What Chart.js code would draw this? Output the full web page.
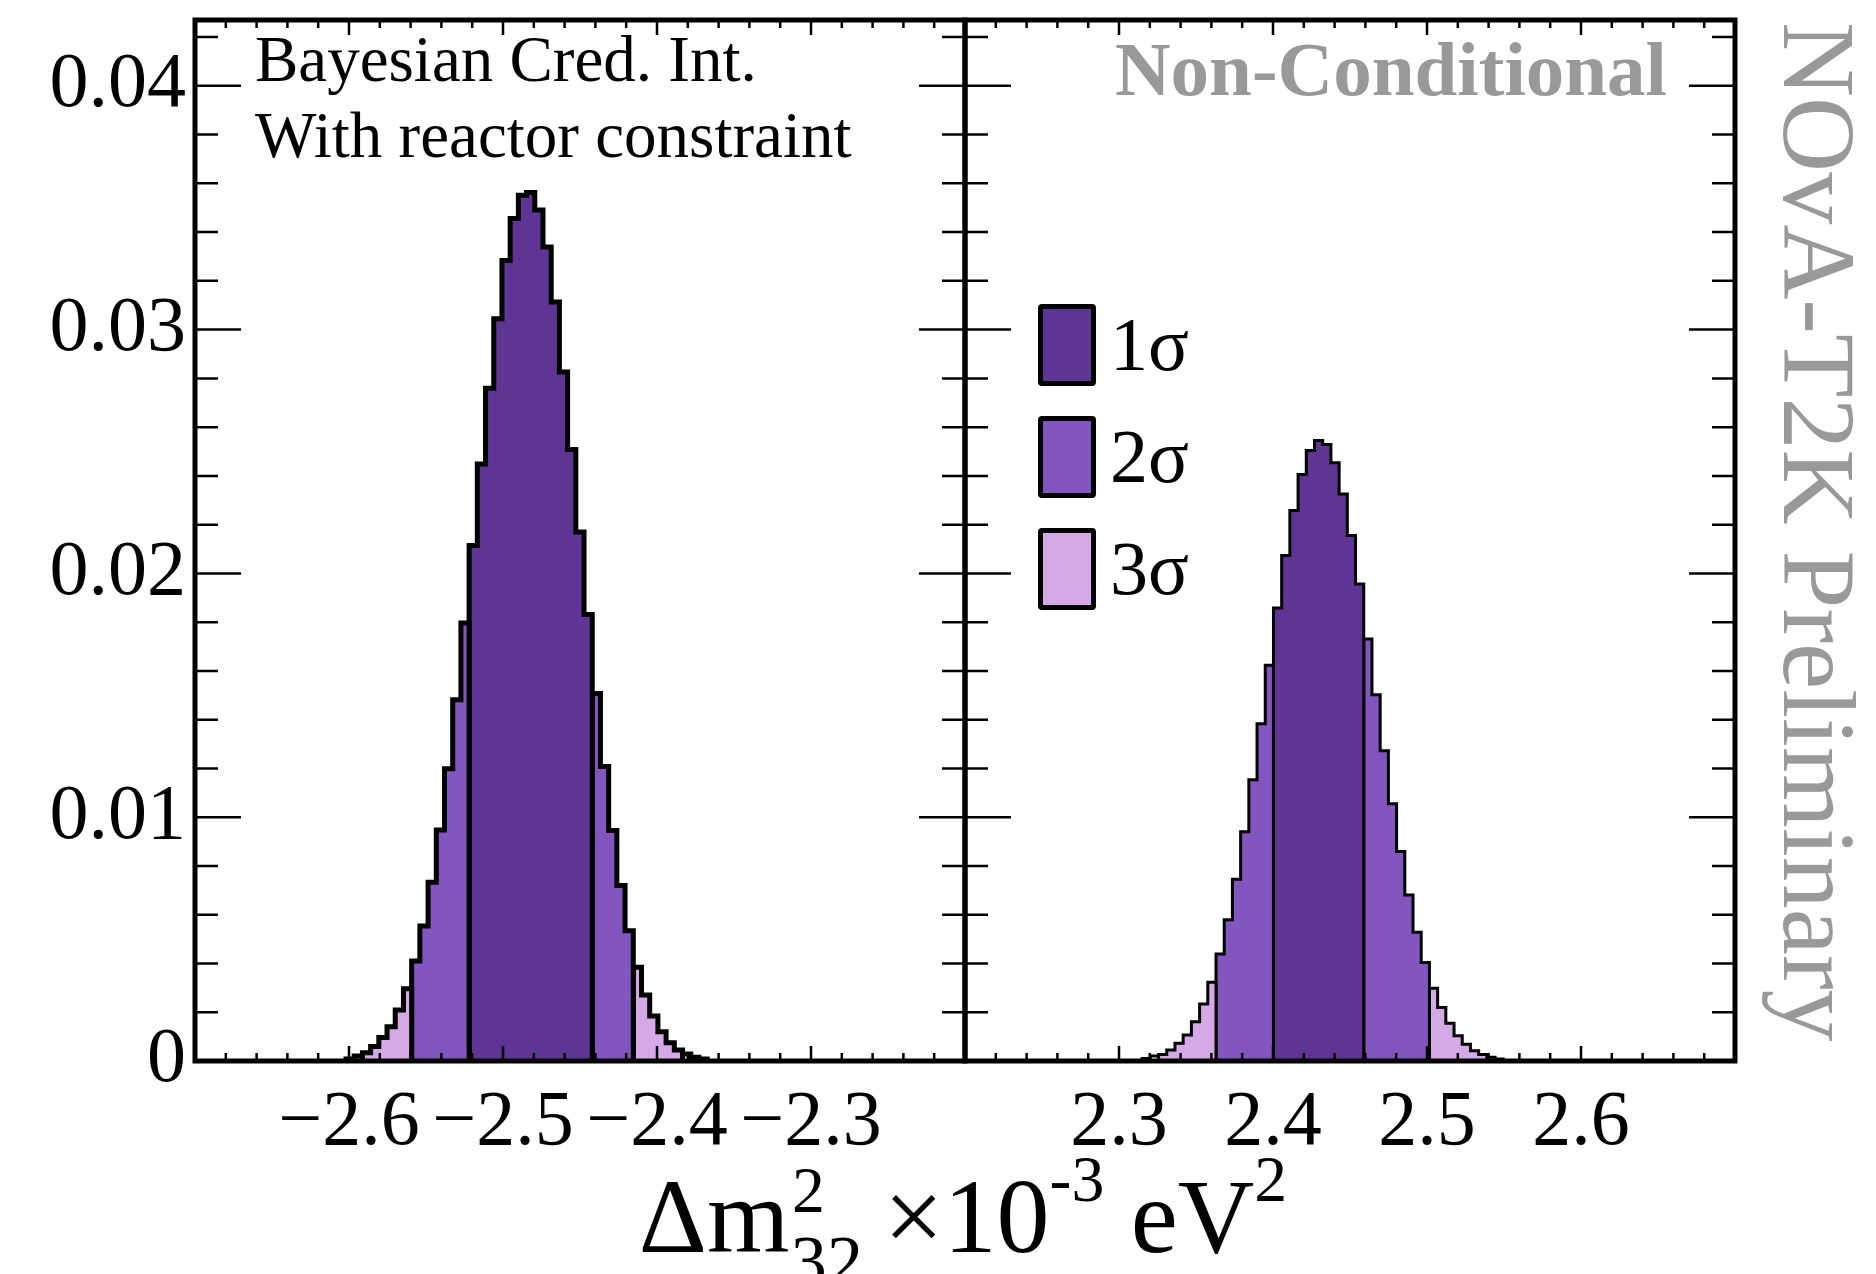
<!DOCTYPE html>
<html>
<head>
<meta charset="utf-8">
<script src="https://cdn.jsdelivr.net/npm/chart.js@4.4.1/dist/chart.umd.min.js"></script>
<style>
    html, body { margin: 0; padding: 0; background: #fff; }
    #wrap { position: relative; width: 1876px; height: 1274px; overflow: hidden; font-family: "Liberation Serif", "Times New Roman", serif; }
    canvas { position: absolute; left: 0; top: 0; }
    .txt { position: absolute; white-space: nowrap; line-height: 1; color: #000; }
    .grey { color: #999; }
    .box { position: absolute; box-sizing: border-box; border: 5px solid #000; border-radius: 4px; }
    .ss { display: inline-block; position: relative; width: 0.64em; height: 1em; vertical-align: baseline; }
    .ss .up { position: absolute; left: 0.04em; top: 0.17em; font-size: 0.62em; }
    .ss .dn { position: absolute; left: 0.02em; top: 1.1em; font-size: 0.68em; }
    .sup { font-size: 0.62em; position: relative; top: -0.78em; }
</style>
</head>
<body>
<div id="wrap">
    <canvas id="c-left" width="1876" height="1274"></canvas>
    <canvas id="c-right" width="1876" height="1274"></canvas>
    <div class="txt" style="left:255px;top:27px;font-size:65px;">Bayesian Cred. Int.</div>
    <div class="txt" style="left:255px;top:103px;font-size:65px;">With reactor constraint</div>
    <div class="txt grey" style="right:209px;top:31px;font-size:77px;font-weight:bold;">Non-Conditional</div>
    <div class="txt grey" style="left:1871px;top:22px;font-size:104px;transform:rotate(90deg);transform-origin:0 0;">NOvA-T2K Preliminary</div>
    <div class="txt" id="xtitle" style="left:963px;top:1146px;font-size:106px;transform:translateX(-50%);">Δm<span class="ss"><span class="up">2</span><span class="dn">32</span></span> ×10<span class="sup">-3</span> eV<span class="sup">2</span></div>
    <div id="legend"></div>
</div>
<script>
(function () {
    "use strict";

    // histogram bins (x in 10^-3 eV^2), heights = posterior probability per bin
    const BIN_WIDTH = 0.00533;

    const leftFirstEdge = -2.60195;
    const leftHeights = [
        0.00008, 0.0002,
        0.00034, 0.00059, 0.00096, 0.00141, 0.00209, 0.00296,
        0.0041, 0.00554, 0.00733, 0.00948, 0.01199, 0.01482, 0.01797,
        0.02115, 0.02449, 0.02759, 0.03045, 0.03284, 0.03456, 0.03551, 0.03562, 0.03491, 0.03339, 0.03113, 0.02826, 0.02508, 0.0217, 0.01831,
        0.01507, 0.01208, 0.00945, 0.0072, 0.00534,
        0.00385, 0.00271, 0.00185, 0.0012, 0.00075, 0.00045,
        0.00029, 0.00015, 0.00008,
    ];
    // [credible level (0 = outside 3 sigma), number of bins]
    const leftRegions = [[0, 2], [3, 6], [2, 7], [1, 15], [2, 5], [3, 6], [0, 3]];

    const rightFirstEdge = 2.31502;
    const rightHeights = [
        0.0001, 0.0002,
        0.00027, 0.00045, 0.00073, 0.00107, 0.00161, 0.00234, 0.00323,
        0.00439, 0.00579, 0.00746, 0.0094, 0.01154, 0.01383, 0.01623,
        0.01858, 0.02073, 0.02258, 0.02406, 0.02504, 0.02545, 0.02529, 0.02454, 0.02326, 0.02155, 0.01957,
        0.01731, 0.01502, 0.01273, 0.01055, 0.00859, 0.00681, 0.00528, 0.00404,
        0.00298, 0.00219, 0.00155, 0.00104, 0.00069, 0.00042, 0.00027,
        0.00015, 0.00008,
    ];
    const rightRegions = [[0, 2], [3, 7], [2, 7], [1, 11], [2, 8], [3, 7], [0, 2]];

    const SIGMA_LABELS = ["1σ", "2σ", "3σ"];
    const SIGMA_COLORS = ["#5e3594", "#8256be", "#d5a9e6"];

    const X_LEFT = [-2.7, -2.2];
    const X_RIGHT = [2.2, 2.7];
    const Y_MAX = 0.0427;
    const X_MAJOR = 0.1, X_MINOR = 0.02;
    const Y_MAJOR = 0.01, Y_MINOR = 0.002;

    const FONT = "Liberation Serif";
    const W = 1876, H = 1274;
    const FRAME = { left: 195, mid: 965, right: 1735, top: 20, bottom: 1061 };

    function buildDatasets(firstEdge, heights, regions, borderWidth) {
        const sets = [];
        let i = 0;
        regions.forEach(([lvl, n]) => {
            const pts = [{ x: firstEdge + i * BIN_WIDTH, y: 0 }];
            for (let k = i; k < i + n; k++) {
                pts.push({ x: firstEdge + k * BIN_WIDTH, y: heights[k] });
                pts.push({ x: firstEdge + (k + 1) * BIN_WIDTH, y: heights[k] });
            }
            pts.push({ x: firstEdge + (i + n) * BIN_WIDTH, y: 0 });
            sets.push({
                label: lvl ? SIGMA_LABELS[lvl - 1] : "",
                data: pts,
                fill: lvl ? "origin" : false,
                backgroundColor: lvl ? SIGMA_COLORS[lvl - 1] : "rgba(0,0,0,0)",
                borderColor: "#000",
                borderWidth: borderWidth,
                borderJoinStyle: "miter",
                pointRadius: 0,
                tension: 0,
            });
            i += n;
        });
        return sets;
    }

    // frame + inward ticks on all four sides, ROOT style
    const framePlugin = {
        id: "frame",
        afterDatasetsDraw(chart) {
            const { ctx, chartArea: a, scales: { x, y } } = chart;
            ctx.save();
            ctx.strokeStyle = "#000";
            ctx.lineWidth = 2.5;
            ctx.beginPath();
            const ny = Math.floor(Y_MAX / Y_MINOR + 1e-6);
            for (let i = 0; i <= ny; i++) {
                const py = y.getPixelForValue(i * Y_MINOR);
                const len = i % 5 === 0 ? 46 : 23;
                ctx.moveTo(a.left, py); ctx.lineTo(a.left + len, py);
                ctx.moveTo(a.right, py); ctx.lineTo(a.right - len, py);
            }
            const nx = Math.round((x.max - x.min) / X_MINOR);
            for (let i = 0; i <= nx; i++) {
                const px = x.getPixelForValue(x.min + i * X_MINOR);
                const len = i % 5 === 0 ? 15 : 8;
                ctx.moveTo(px, a.bottom); ctx.lineTo(px, a.bottom - len);
                ctx.moveTo(px, a.top); ctx.lineTo(px, a.top + len);
            }
            ctx.stroke();
            ctx.lineWidth = 5;
            ctx.strokeRect(a.left, a.top, a.right - a.left, a.bottom - a.top);
            ctx.restore();
        },
    };

    function xLabel(v, range) {
        if (Math.abs(v - range[0]) < 1e-6 || Math.abs(v - range[1]) < 1e-6) return "";
        const s = Math.abs(v).toFixed(1);
        return v < 0 ? "\u2212" + s : s;
    }

    function noPad(s) {
        s.paddingTop = 0; s.paddingBottom = 0; s.paddingLeft = 0; s.paddingRight = 0;
    }

    function makeChart(id, firstEdge, heights, regions, range, borderWidth, showY) {
        const left = showY ? 0 : FRAME.mid;
        const right = showY ? W - FRAME.mid : W - FRAME.right;
        return new Chart(document.getElementById(id), {
            type: "line",
            data: { datasets: buildDatasets(firstEdge, heights, regions, borderWidth) },
            options: {
                responsive: false,
                animation: false,
                layout: { padding: { left: left, right: right, top: FRAME.top, bottom: 0 } },
                plugins: { legend: { display: false }, tooltip: { enabled: false } },
                scales: {
                    x: {
                        type: "linear", min: range[0], max: range[1],
                        grid: { display: false }, border: { display: false },
                        afterFit: (s) => { s.height = H - FRAME.bottom; noPad(s); },
                        ticks: {
                            stepSize: X_MAJOR, autoSkip: false, maxRotation: 0, padding: 8,
                            color: "#000", font: { family: FONT, size: 78 },
                            callback: (v) => xLabel(v, range),
                        },
                    },
                    y: {
                        display: showY, min: 0, max: Y_MAX,
                        grid: { display: false }, border: { display: false },
                        afterFit: (s) => { s.width = showY ? FRAME.left : 0; noPad(s); },
                        ticks: {
                            stepSize: Y_MAJOR, includeBounds: false, autoSkip: false, padding: 1,
                            color: "#000", font: { family: FONT, size: 78 },
                            callback: (v) => {
                                const r = Math.round(v / Y_MAJOR);
                                if (Math.abs(v - r * Y_MAJOR) > 1e-7) return "";
                                return r === 0 ? "0" : v.toFixed(2);
                            },
                        },
                    },
                },
            },
            plugins: [framePlugin],
        });
    }

    makeChart("c-left", leftFirstEdge, leftHeights, leftRegions, X_LEFT, 5, true);
    makeChart("c-right", rightFirstEdge, rightHeights, rightRegions, X_RIGHT, 3, false);

    // legend built from the sigma levels
    document.getElementById("legend").innerHTML = SIGMA_LABELS.map((lab, i) => `
        <div class="box" style="left:1038px;top:${304 + i * 112}px;width:58px;height:82px;background:${SIGMA_COLORS[i]};"></div>
        <div class="txt" style="left:1110px;top:${306 + i * 112}px;font-size:76px;">${lab}</div>
    `).join("");
})();
</script>
</body>
</html>
